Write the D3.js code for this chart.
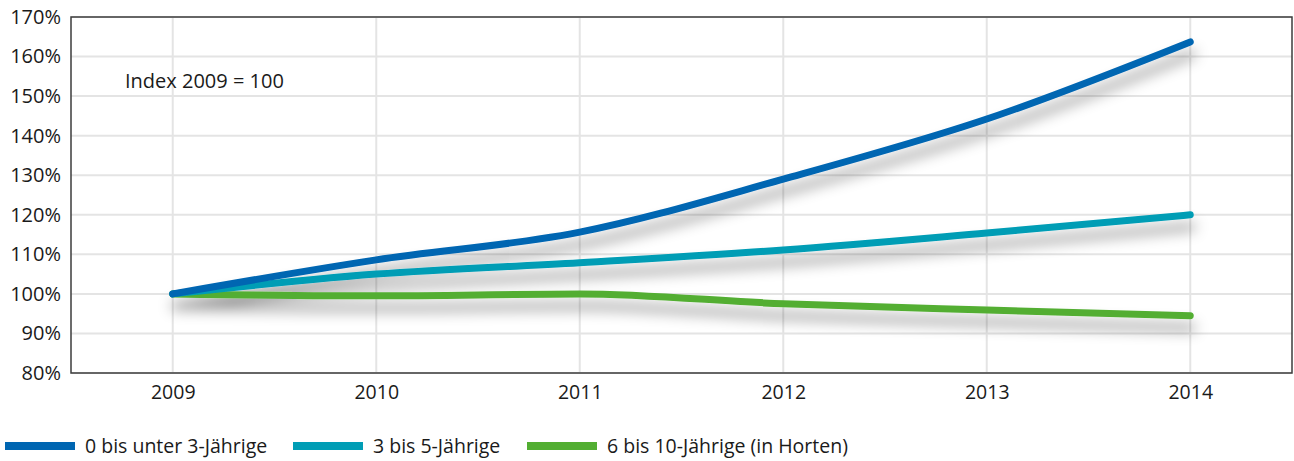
<!DOCTYPE html>
<html>
<head>
<meta charset="utf-8">
<script src="https://cdn.jsdelivr.net/npm/d3@7"></script>
<style>
  body { margin: 0; background: #fff; }
  svg { display: block; font-family: "Open Sans", sans-serif; }
</style>
</head>
<body>
<svg></svg>
<script>
/* globals d3 */

const width = 1294;
const height = 461;

// data
const years = ["2009", "2010", "2011", "2012", "2013", "2014"];
const under3 = [100, 108.6, 115.6, 129, 144.2, 163.7];
const age3to5 = [100, 105, 107.9, 111.1, 115.4, 120];
const age6to10 = [100, 99.5, 100, 97.5, 95.9, 94.5];
const seriesNames = ["0 bis unter 3-Jährige", "3 bis 5-Jährige", "6 bis 10-Jährige (in Horten)"];
const seriesColors = ["#0066b2", "#009db5", "#52ae32"];
const yTicks = [80, 90, 100, 110, 120, 130, 140, 150, 160, 170];

const series = [under3, age3to5, age6to10].map((values, k) => ({
  name: seriesNames[k],
  color: seriesColors[k],
  values: values
}));

const marginLeft = 71, marginRight = 2, marginTop = 17, marginBottom = 88;

const svg = d3.select("svg")
    .attr("width", width)
    .attr("height", height)
    .attr("viewBox", [0, 0, width, height]);

const x = d3.scalePoint(years, [marginLeft, width - marginRight]).padding(0.5);
const y = d3.scaleLinear([80, 170], [height - marginBottom, marginTop]);

// drop shadow under the lines
const filter = svg.append("defs").append("filter")
    .attr("id", "shadow")
    .attr("x", "-10%").attr("y", "-50%")
    .attr("width", "120%").attr("height", "200%");
filter.append("feDropShadow")
    .attr("dx", 2)
    .attr("dy", 12)
    .attr("stdDeviation", 7)
    .attr("flood-color", "#000")
    .attr("flood-opacity", 0.4);

// gridlines
svg.append("g")
    .attr("stroke", "#e4e4e4")
    .attr("stroke-width", 2)
  .selectAll("line")
  .data(yTicks)
  .join("line")
    .attr("x1", marginLeft)
    .attr("x2", width - marginRight)
    .attr("y1", d => y(d))
    .attr("y2", d => y(d));

svg.append("g")
    .attr("stroke", "#e4e4e4")
    .attr("stroke-width", 2)
  .selectAll("line")
  .data(years)
  .join("line")
    .attr("x1", d => x(d))
    .attr("x2", d => x(d))
    .attr("y1", marginTop)
    .attr("y2", height - marginBottom);

// frame
svg.append("rect")
    .attr("x", marginLeft)
    .attr("y", marginTop)
    .attr("width", width - marginRight - marginLeft)
    .attr("height", height - marginBottom - marginTop)
    .attr("fill", "none")
    .attr("stroke", "#3c3c3c")
    .attr("stroke-width", 1.5);

// axes
svg.append("g")
    .attr("transform", `translate(${marginLeft},0)`)
    .call(d3.axisLeft(y).tickValues(yTicks).tickSize(0).tickPadding(10).tickFormat(d => d + "%"))
    .call(g => g.select(".domain").remove())
    .call(g => g.selectAll("text")
        .attr("font-family", "Open Sans, sans-serif")
        .attr("font-size", 20)
        .attr("fill", "#1a1a1a"));

svg.append("g")
    .attr("transform", `translate(0,${height - marginBottom})`)
    .call(d3.axisBottom(x).tickSize(0).tickPadding(12))
    .call(g => g.select(".domain").remove())
    .call(g => g.selectAll("text")
        .attr("font-family", "Open Sans, sans-serif")
        .attr("font-size", 19.5)
        .attr("fill", "#1a1a1a"));

// lines
const line = d3.line()
    .curve(d3.curveMonotoneX)
    .x((d, i) => x(years[i]))
    .y(d => y(d));

svg.append("g")
    .attr("filter", "url(#shadow)")
  .selectAll("path")
  .data(series.slice().reverse())
  .join("path")
    .attr("fill", "none")
    .attr("stroke", d => d.color)
    .attr("stroke-width", 7)
    .attr("stroke-linecap", "round")
    .attr("stroke-linejoin", "round")
    .attr("d", d => line(d.values));

// annotation
svg.append("text")
    .attr("x", 125)
    .attr("y", 88)
    .attr("font-size", 20)
    .attr("fill", "#1a1a1a")
    .text("Index 2009 = 100");

// legend
const legendX = [5, 293, 527];
const legend = svg.append("g")
  .selectAll("g")
  .data(series)
  .join("g")
    .attr("transform", (d, i) => `translate(${legendX[i]},446)`);

legend.append("line")
    .attr("x1", 0)
    .attr("x2", 70)
    .attr("stroke", d => d.color)
    .attr("stroke-width", 8);

legend.append("text")
    .attr("x", 80)
    .attr("dy", "0.35em")
    .attr("font-size", 19.5)
    .attr("fill", "#1a1a1a")
    .text(d => d.name);
</script>
</body>
</html>
